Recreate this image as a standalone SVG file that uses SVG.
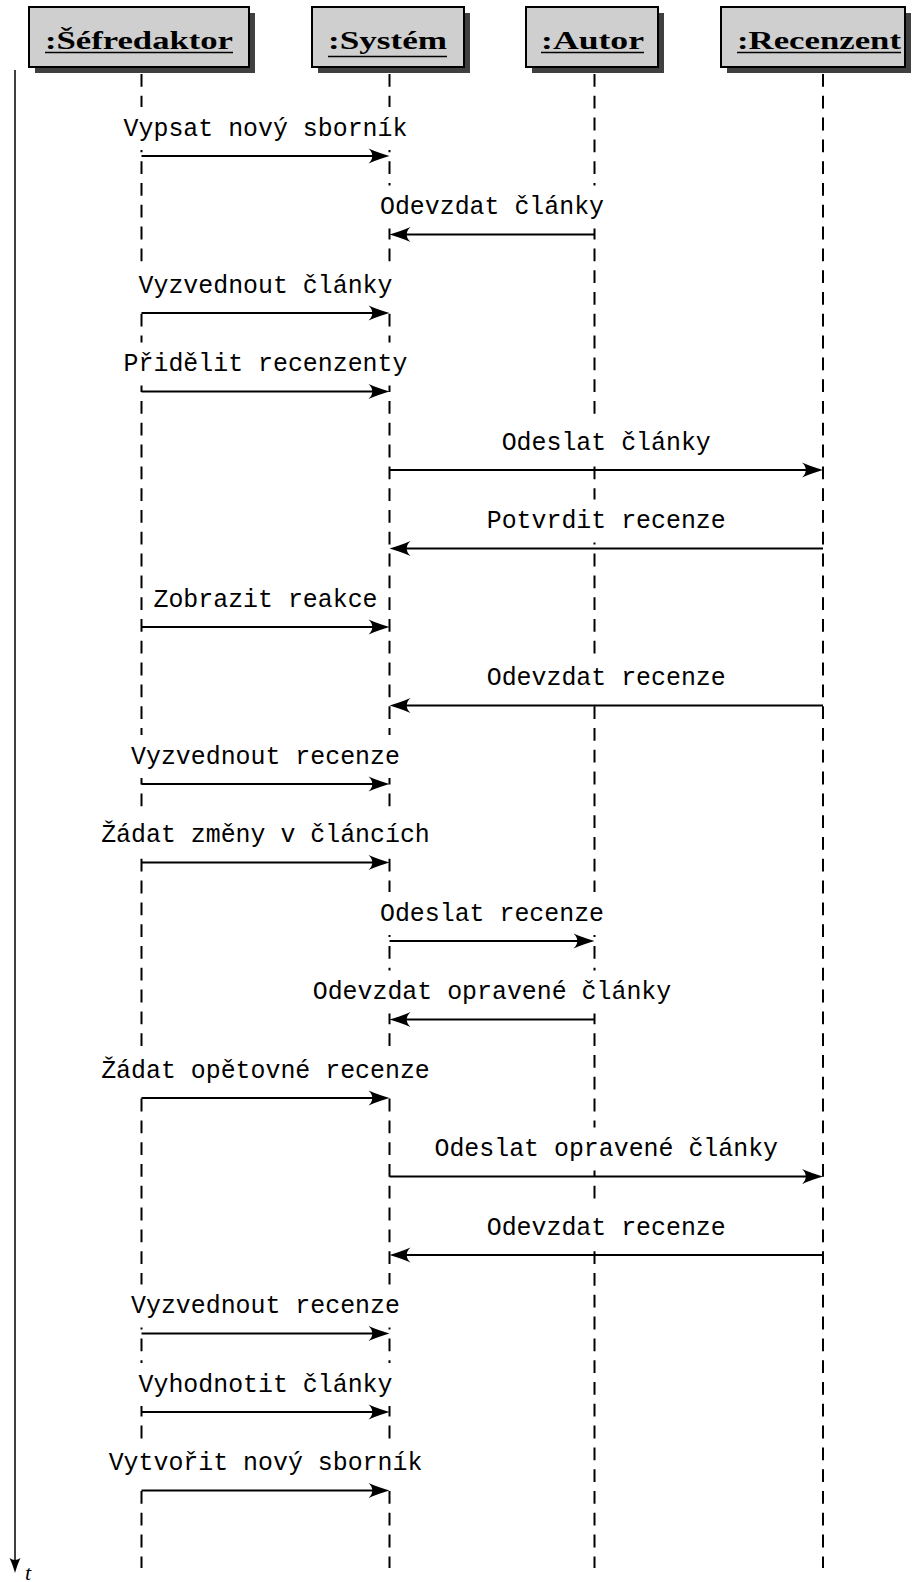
<svg xmlns="http://www.w3.org/2000/svg" width="916" height="1582" viewBox="0 0 916 1582">
<style>
.hdr{fill:#cfcfcf;stroke:#000;stroke-width:2}
.shd{fill:#404040}
.ht{font-family:"Liberation Serif",serif;font-weight:bold;font-size:26px;fill:#000}
.ul{stroke:#000;stroke-width:1.4}
.life{stroke:#000;stroke-width:2;stroke-dasharray:12.8 9;fill:none}
.bg{fill:#fff}
.lbl{font-family:"Liberation Mono",monospace;font-size:24.9px;fill:#000;text-anchor:middle}
.msg{stroke:#000;stroke-width:2;fill:none;marker-end:url(#ah)}
</style>
<defs>
<marker id="ah" markerUnits="userSpaceOnUse" viewBox="-22 -8 23 16" refX="-8" refY="0" markerWidth="23" markerHeight="16" orient="auto">
<path d="M0,0 C-6,-1.5 -14,-4.5 -21,-7.5 C-16,-3 -16,3 -21,7.5 C-14,4.5 -6,1.5 0,0 Z" fill="#000"/>
</marker>
</defs>
<rect width="916" height="1582" fill="#fff"/>

<g id="time-axis">
<line x1="15" y1="70" x2="15" y2="1564" stroke="#000" stroke-width="1.5"/>
<path d="M15,1573 C13.5,1568 12,1563 9.5,1558 C13,1560.5 17,1560.5 20.5,1558 C18,1563 16.5,1568 15,1573 Z" fill="#000"/>
<text x="25" y="1580" font-family="Liberation Serif,serif" font-style="italic" font-size="22" fill="#000">t</text>
</g>

<g id="lifelines">
<line class="life" x1="141.5" y1="74" x2="141.5" y2="1568"/>
<line class="life" x1="389.5" y1="74" x2="389.5" y2="1568"/>
<line class="life" x1="594.5" y1="74" x2="594.5" y2="1568"/>
<line class="life" x1="823" y1="74" x2="823" y2="1568"/>
</g>

<g id="node-sefredaktor">
<rect class="shd" x="35" y="13" width="220" height="60"/>
<rect class="hdr" x="29" y="7" width="220" height="60"/>
<text class="ht" x="45" y="48.5" textLength="188" lengthAdjust="spacingAndGlyphs">:Šéfredaktor</text>
<line class="ul" x1="45" y1="52.5" x2="233" y2="52.5"/>
</g>
<g id="node-system">
<rect class="shd" x="318" y="13" width="152" height="60"/>
<rect class="hdr" x="312" y="7" width="152" height="60"/>
<text class="ht" x="328" y="48.5" textLength="119" lengthAdjust="spacingAndGlyphs">:Systém</text>
<line class="ul" x1="328" y1="56.5" x2="447" y2="56.5"/>
</g>
<g id="node-autor">
<rect class="shd" x="532" y="13" width="132" height="60"/>
<rect class="hdr" x="526" y="7" width="132" height="60"/>
<text class="ht" x="541" y="48.5" textLength="103" lengthAdjust="spacingAndGlyphs">:Autor</text>
<line class="ul" x1="541" y1="52.5" x2="644" y2="52.5"/>
</g>
<g id="node-recenzent">
<rect class="shd" x="727" y="13" width="184" height="60"/>
<rect class="hdr" x="721" y="7" width="184" height="60"/>
<text class="ht" x="737" y="48.5" textLength="164" lengthAdjust="spacingAndGlyphs">:Recenzent</text>
<line class="ul" x1="737" y1="52.5" x2="901" y2="52.5"/>
</g>

<g id="label-backgrounds">
<rect class="bg" x="119.55" y="107" width="291.9" height="43"/>
<rect class="bg" x="375.95" y="185.5" width="232.1" height="43"/>
<rect class="bg" x="134.5" y="264" width="262" height="43"/>
<rect class="bg" x="119.55" y="342.5" width="291.9" height="43"/>
<rect class="bg" x="497.65" y="421" width="217.2" height="43"/>
<rect class="bg" x="482.75" y="499.5" width="247" height="43"/>
<rect class="bg" x="149.45" y="578" width="232.1" height="43"/>
<rect class="bg" x="482.75" y="656.5" width="247" height="43"/>
<rect class="bg" x="127.05" y="735" width="276.9" height="43"/>
<rect class="bg" x="97.15" y="813.5" width="336.7" height="43"/>
<rect class="bg" x="375.95" y="892" width="232.1" height="43"/>
<rect class="bg" x="308.7" y="970.5" width="366.6" height="43"/>
<rect class="bg" x="97.15" y="1049" width="336.7" height="43"/>
<rect class="bg" x="430.45" y="1127.5" width="351.6" height="43"/>
<rect class="bg" x="482.75" y="1206" width="247" height="43"/>
<rect class="bg" x="127.05" y="1284.5" width="276.9" height="43"/>
<rect class="bg" x="134.5" y="1363" width="262" height="43"/>
<rect class="bg" x="104.65" y="1441.5" width="321.7" height="43"/>
</g>

<g id="connectors">
<line class="msg" x1="141.5" y1="156" x2="381.5" y2="156"/>
<line class="msg" x1="594.5" y1="234.5" x2="397.5" y2="234.5"/>
<line class="msg" x1="141.5" y1="313" x2="381.5" y2="313"/>
<line class="msg" x1="141.5" y1="391.5" x2="381.5" y2="391.5"/>
<line class="msg" x1="389.5" y1="470" x2="815" y2="470"/>
<line class="msg" x1="823" y1="548.5" x2="397.5" y2="548.5"/>
<line class="msg" x1="141.5" y1="627" x2="381.5" y2="627"/>
<line class="msg" x1="823" y1="705.5" x2="397.5" y2="705.5"/>
<line class="msg" x1="141.5" y1="784" x2="381.5" y2="784"/>
<line class="msg" x1="141.5" y1="862.5" x2="381.5" y2="862.5"/>
<line class="msg" x1="389.5" y1="941" x2="586.5" y2="941"/>
<line class="msg" x1="594.5" y1="1019.5" x2="397.5" y2="1019.5"/>
<line class="msg" x1="141.5" y1="1098" x2="381.5" y2="1098"/>
<line class="msg" x1="389.5" y1="1176.5" x2="815" y2="1176.5"/>
<line class="msg" x1="823" y1="1255" x2="397.5" y2="1255"/>
<line class="msg" x1="141.5" y1="1333.5" x2="381.5" y2="1333.5"/>
<line class="msg" x1="141.5" y1="1412" x2="381.5" y2="1412"/>
<line class="msg" x1="141.5" y1="1490.5" x2="381.5" y2="1490.5"/>
</g>

<g id="labels">
<text class="lbl" x="265.5" y="135.5">Vypsat nový sborník</text>
<text class="lbl" x="492" y="214">Odevzdat články</text>
<text class="lbl" x="265.5" y="292.5">Vyzvednout články</text>
<text class="lbl" x="265.5" y="371">Přidělit recenzenty</text>
<text class="lbl" x="606.25" y="449.5">Odeslat články</text>
<text class="lbl" x="606.25" y="528">Potvrdit recenze</text>
<text class="lbl" x="265.5" y="606.5">Zobrazit reakce</text>
<text class="lbl" x="606.25" y="685">Odevzdat recenze</text>
<text class="lbl" x="265.5" y="763.5">Vyzvednout recenze</text>
<text class="lbl" x="265.5" y="842">Žádat změny v článcích</text>
<text class="lbl" x="492" y="920.5">Odeslat recenze</text>
<text class="lbl" x="492" y="999">Odevzdat opravené články</text>
<text class="lbl" x="265.5" y="1077.5">Žádat opětovné recenze</text>
<text class="lbl" x="606.25" y="1156">Odeslat opravené články</text>
<text class="lbl" x="606.25" y="1234.5">Odevzdat recenze</text>
<text class="lbl" x="265.5" y="1313">Vyzvednout recenze</text>
<text class="lbl" x="265.5" y="1391.5">Vyhodnotit články</text>
<text class="lbl" x="265.5" y="1470">Vytvořit nový sborník</text>
</g>
</svg>
